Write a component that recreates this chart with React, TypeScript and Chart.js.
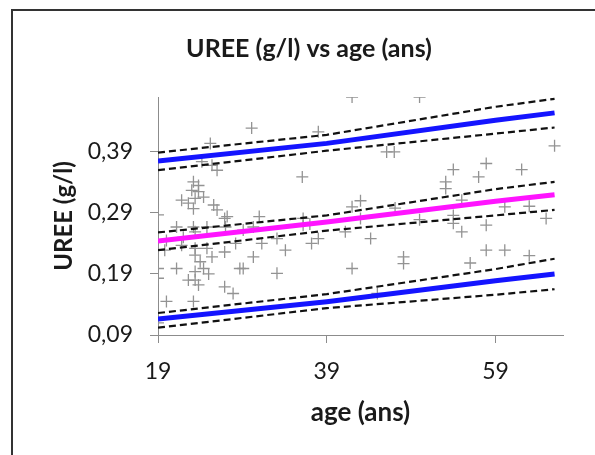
import { useEffect, useRef } from "react";
import { Chart, registerables } from "chart.js";

Chart.register(...registerables);

// Observations: age (ans) and UREE (g/l)
const ages = [
  42.0, 50.0, 30.1, 38.0, 66.0, 25.2, 46.1, 47.0, 24.2, 25.4,
  26.0, 36.1, 54.0, 57.9, 57.0, 62.1, 53.1, 53.1, 23.2, 23.8,
  23.0, 23.8, 21.8, 22.6, 23.4, 24.4, 23.2, 25.6, 26.0, 19.0,
  26.9, 21.2, 23.2, 23.4, 24.8, 19.8, 21.8, 23.4, 23.4, 24.8,
  26.9, 25.4, 19.0, 19.0, 21.2, 22.6, 23.4, 23.4, 23.8, 24.4,
  26.9, 27.9, 20.0, 23.2, 28.7, 31.0, 30.3, 31.3, 33.1, 34.1,
  36.2, 37.0, 37.2, 38.0, 41.2, 42.0, 43.0, 44.2, 30.3, 33.1,
  42.0, 47.1, 55.0, 60.1, 63.0, 65.0, 54.0, 54.0, 55.0, 57.9,
  50.0, 43.0, 48.1, 48.1, 56.0, 57.9, 60.1, 63.0, 45.0, 27.2,
  27.0, 29.1, 29.1, 20.0, 28.2, 19.0, 36.2, 22.0, 24.0, 25.0,
];
const uree = [
  0.480, 0.480, 0.429, 0.423, 0.400, 0.404, 0.390, 0.390, 0.374, 0.368,
  0.360, 0.349, 0.361, 0.371, 0.349, 0.361, 0.341, 0.330, 0.341, 0.335,
  0.327, 0.325, 0.311, 0.306, 0.314, 0.316, 0.297, 0.303, 0.295, 0.287,
  0.281, 0.267, 0.267, 0.259, 0.267, 0.229, 0.237, 0.232, 0.221, 0.232,
  0.226, 0.218, 0.199, 0.183, 0.199, 0.180, 0.194, 0.180, 0.172, 0.199,
  0.169, 0.158, 0.145, 0.145, 0.199, 0.284, 0.267, 0.240, 0.248, 0.229,
  0.281, 0.272, 0.240, 0.248, 0.259, 0.300, 0.310, 0.248, 0.218, 0.191,
  0.199, 0.298, 0.311, 0.300, 0.301, 0.281, 0.286, 0.273, 0.259, 0.270,
  0.279, 0.281, 0.218, 0.207, 0.208, 0.229, 0.229, 0.220, 0.158, 0.284,
  0.267, 0.262, 0.199, 0.245, 0.240, 0.110, 0.270, 0.250, 0.210, 0.190,
];

// Fitted model and bands, evaluated at these ages
const fitAges = [19, 39, 59, 66];
const fitLine = [0.244, 0.275, 0.309, 0.320];
const fitConfHigh = [0.258, 0.286, 0.329, 0.341];
const fitConfLow = [0.229, 0.261, 0.286, 0.295];
const predHigh = [0.375, 0.404, 0.442, 0.454];
const predHighUpper = [0.389, 0.418, 0.464, 0.477];
const predHighLower = [0.360, 0.392, 0.420, 0.430];
const predLow = [0.116, 0.1445, 0.179, 0.190];
const predLowUpper = [0.126, 0.157, 0.198, 0.215];
const predLowLower = [0.102, 0.134, 0.156, 0.165];

const xTicks = [19, 39, 59];
const yTicks = [0.09, 0.19, 0.29, 0.39];
const xRange = [19, 67];
const yRange = [0.09, 0.48];

const FONT = "Lato, 'Open Sans', sans-serif";
const TEXT = "#1a1a1a";
const AXIS = "#8c8c8c";

const toPoints = (xs: number[], ys: number[]) => xs.map((x, i) => ({ x, y: ys[i] }));

const solid = (label: string, ys: number[], color: string) => ({
  label,
  data: toPoints(fitAges, ys),
  showLine: true,
  borderColor: color,
  backgroundColor: color,
  borderWidth: 5,
  pointRadius: 0,
  tension: 0,
  order: 1,
});

const dashed = (label: string, ys: number[]) => ({
  label,
  data: toPoints(fitAges, ys),
  showLine: true,
  borderColor: "#111111",
  backgroundColor: "#111111",
  borderWidth: 2.2,
  borderDash: [7, 4],
  pointRadius: 0,
  tension: 0,
  order: 2,
});

// White page with the frame's top and left edges
const framePlugin = {
  id: "frame",
  beforeDraw(chart: Chart) {
    const { ctx, width, height } = chart;
    ctx.save();
    ctx.fillStyle = "#ffffff";
    ctx.fillRect(0, 0, width, height);
    ctx.strokeStyle = "#333333";
    ctx.lineWidth = 2;
    ctx.beginPath();
    ctx.moveTo(12, height);
    ctx.lineTo(12, 10);
    ctx.lineTo(width, 10);
    ctx.stroke();
    ctx.restore();
  },
};

export default function App() {
  const canvasRef = useRef<HTMLCanvasElement | null>(null);

  useEffect(() => {
    document.body.style.margin = "0";
    const canvas = canvasRef.current;
    if (!canvas) return;

    const chart = new Chart(canvas, {
      type: "scatter",
      data: {
        datasets: [
          solid("Prédiction (haut)", predHigh, "#1414ff"),
          solid("Modèle", fitLine, "#ff14ff"),
          solid("Prédiction (bas)", predLow, "#1414ff"),
          dashed("IC haut +", predHighUpper),
          dashed("IC haut -", predHighLower),
          dashed("IC modèle +", fitConfHigh),
          dashed("IC modèle -", fitConfLow),
          dashed("IC bas +", predLowUpper),
          dashed("IC bas -", predLowLower),
          {
            label: "UREE (g/l)",
            data: toPoints(ages, uree),
            pointStyle: "cross",
            pointRadius: 6,
            pointBorderWidth: 1.3,
            borderColor: "#939393",
            backgroundColor: "#939393",
            showLine: false,
            order: 10,
          },
        ],
      },
      options: {
        animation: false,
        responsive: true,
        maintainAspectRatio: false,
        layout: { padding: { left: 55, right: 32, top: 0, bottom: 0 } },
        plugins: {
          legend: { display: false },
          tooltip: { enabled: false },
          title: {
            display: true,
            text: "UREE (g/l) vs age (ans)",
            color: TEXT,
            font: { family: FONT, size: 25, weight: "bold", lineHeight: 1.2 },
            padding: { top: 33.5, bottom: 33.5 },
          },
        },
        scales: {
          x: {
            type: "linear",
            min: xRange[0],
            max: xRange[1],
            afterBuildTicks: (scale: any) => {
              scale.ticks = xTicks.map((value) => ({ value }));
            },
            afterFit: (scale: any) => {
              scale.height = 120;
            },
            ticks: {
              color: TEXT,
              font: { family: FONT, size: 23 },
              padding: 15,
              maxRotation: 0,
              autoSkip: false,
            },
            grid: {
              drawOnChartArea: false,
              drawTicks: true,
              tickLength: 8,
              color: AXIS,
            },
            border: { color: AXIS, width: 1 },
            title: {
              display: true,
              text: "age (ans)",
              color: TEXT,
              font: { family: FONT, size: 26, weight: "bold", lineHeight: 1.2 },
              padding: { top: 0, bottom: 27 },
            },
          },
          y: {
            type: "linear",
            min: yRange[0],
            max: yRange[1],
            afterBuildTicks: (scale: any) => {
              scale.ticks = yTicks.map((value) => ({ value }));
            },
            afterFit: (scale: any) => {
              scale.width = 103;
            },
            ticks: {
              color: TEXT,
              font: { family: FONT, size: 23 },
              padding: 17,
              autoSkip: false,
              callback: (value: any) => Number(value).toFixed(2).replace(".", ","),
            },
            grid: {
              drawOnChartArea: false,
              drawTicks: true,
              tickLength: 8,
              color: AXIS,
            },
            border: { color: AXIS, width: 1 },
            title: {
              display: true,
              text: "UREE (g/l)",
              color: TEXT,
              font: { family: FONT, size: 24, weight: "bold", lineHeight: 1 },
              padding: { top: -2.5, bottom: 0 },
            },
          },
        },
      },
      plugins: [framePlugin],
    });

    return () => chart.destroy();
  }, []);

  return (
    <div style={{ width: "595px", height: "455px", position: "relative" }}>
      <canvas ref={canvasRef} />
    </div>
  );
}
